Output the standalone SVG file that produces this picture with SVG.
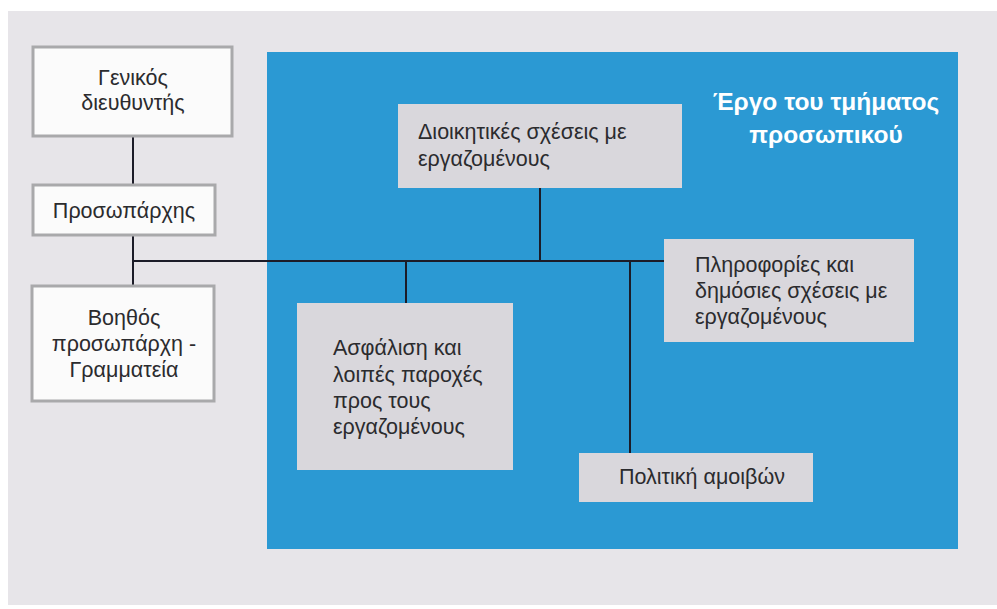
<svg xmlns="http://www.w3.org/2000/svg" width="997" height="609" viewBox="0 0 997 609">
  <style>
    .page { fill: #e7e5e9; }
    .panel { fill: #2b99d3; }
    .outer { fill: #fbfbfb; stroke: #a9a9ab; stroke-width: 3; }
    .inner { fill: #d9d7dc; }
    .lbl { font-family: "Liberation Sans", Arial, sans-serif; font-size: 21.5px; fill: #2b2b2e; }
    .mid { text-anchor: middle; }
    .title { font-family: "Liberation Sans", Arial, sans-serif; font-size: 24.5px; font-weight: bold; fill: #ffffff; text-anchor: middle; }
    .link { stroke: #1c1c28; stroke-width: 2; fill: none; }
  </style>

  <rect x="0" y="0" width="997" height="609" fill="#ffffff"/>
  <rect class="page" x="8" y="11" width="989" height="594"/>
  <rect class="panel" x="267" y="52" width="691" height="497"/>

  <text class="title" x="826" y="110">Έργο του τμήματος</text>
  <text class="title" x="826" y="143">προσωπικού</text>

  <g id="connectors">
    <line class="link" x1="133" y1="137" x2="133" y2="285"/>
    <line class="link" x1="133" y1="261" x2="664" y2="261"/>
    <line class="link" x1="540" y1="188" x2="540" y2="261"/>
    <line class="link" x1="406" y1="261" x2="406" y2="303"/>
    <line class="link" x1="630" y1="261" x2="630" y2="453"/>
  </g>

  <g id="general-manager">
    <rect class="outer" x="33" y="47" width="199" height="89"/>
    <text class="lbl mid" x="133" y="85">Γενικός</text>
    <text class="lbl mid" x="133" y="110">διευθυντής</text>
  </g>

  <g id="personnel-manager">
    <rect class="outer" x="33" y="185" width="182" height="50"/>
    <text class="lbl mid" x="124" y="218">Προσωπάρχης</text>
  </g>

  <g id="assistant">
    <rect class="outer" x="32" y="286" width="182" height="115"/>
    <text class="lbl mid" x="124" y="325">Βοηθός</text>
    <text class="lbl mid" x="124" y="351">προσωπάρχη -</text>
    <text class="lbl mid" x="124" y="377">Γραμματεία</text>
  </g>

  <g id="admin-relations">
    <rect class="inner" x="398" y="104" width="284" height="84"/>
    <text class="lbl" x="418" y="139">Διοικητικές σχέσεις με</text>
    <text class="lbl" x="418" y="166">εργαζομένους</text>
  </g>

  <g id="information">
    <rect class="inner" x="664" y="239" width="250" height="103"/>
    <text class="lbl" x="695" y="272">Πληροφορίες και</text>
    <text class="lbl" x="695" y="298">δημόσιες σχέσεις με</text>
    <text class="lbl" x="695" y="324">εργαζομένους</text>
  </g>

  <g id="insurance">
    <rect class="inner" x="297" y="303" width="216" height="167"/>
    <text class="lbl" x="333" y="355">Ασφάλιση και</text>
    <text class="lbl" x="333" y="382">λοιπές παροχές</text>
    <text class="lbl" x="333" y="408">προς τους</text>
    <text class="lbl" x="333" y="434">εργαζομένους</text>
  </g>

  <g id="pay-policy">
    <rect class="inner" x="579" y="453" width="234" height="49"/>
    <text class="lbl" x="619" y="484">Πολιτική αμοιβών</text>
  </g>
</svg>
